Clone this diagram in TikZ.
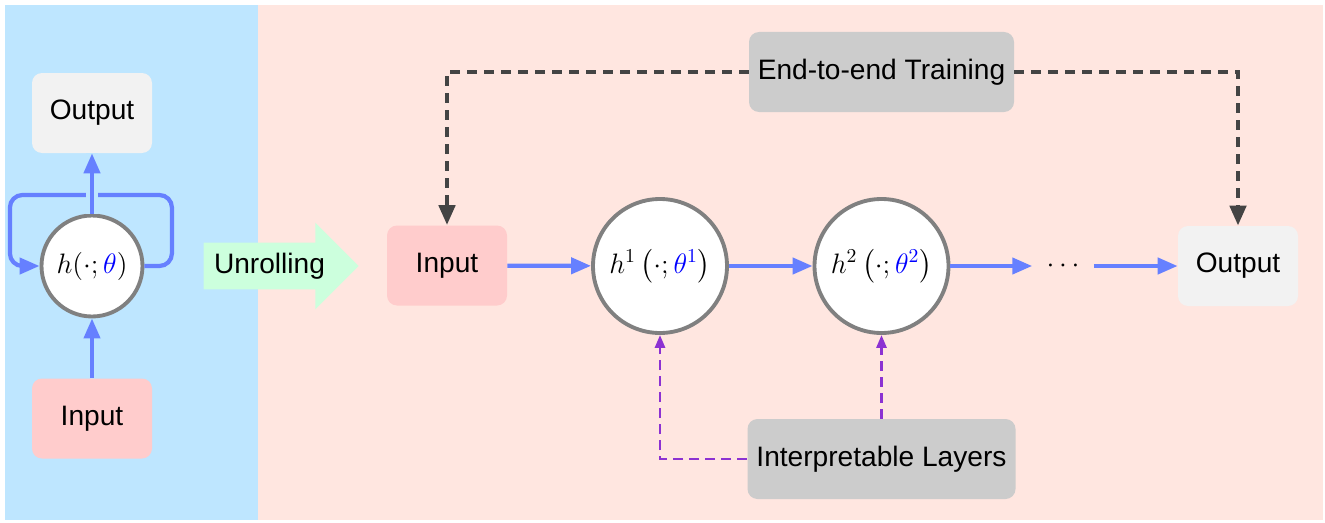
\RequirePackage{fix-cm}
\documentclass[tikz,border=0pt]{standalone}
\usepackage{amsmath,amsfonts}
\usepackage[no-math]{fontspec}
\setsansfont{Liberation Sans}
\usepackage{tikz}
\usetikzlibrary{positioning}
\usetikzlibrary{arrows.meta}
\usetikzlibrary{shapes.arrows}

\definecolor{panelblue}{RGB}{190,230,255}
\definecolor{panelpink}{RGB}{255,230,224}
\definecolor{inred}{RGB}{255,204,204}
\definecolor{outgray}{RGB}{242,242,242}
\definecolor{boxgray}{RGB}{204,204,204}
\definecolor{flowblue}{RGB}{102,128,255}
\definecolor{darkdash}{RGB}{68,68,68}
\definecolor{layerviolet}{RGB}{140,50,210}
\definecolor{mint}{RGB}{204,255,221}
\definecolor{ringgray}{RGB}{128,128,128}

\begin{document}
\begin{tikzpicture}[
    every node/.style={font=\fontsize{16}{19}\selectfont},
    box/.style={rounded corners=.2cm, minimum width=2.4cm, minimum height=1.6cm, inner sep=0pt, font=\sffamily\fontsize{16}{19}\selectfont},
    ring/.style={circle, draw=ringgray, line width=2.2pt, fill=white, inner sep=0pt},
    flow/.style={flowblue, line width=2.4pt, -{Triangle[length=.4cm,width=.32cm]}},
    train/.style={darkdash, line width=2.6pt, dash pattern=on .2cm off .14cm, -{Triangle[length=.4cm,width=.32cm]}},
    layer/.style={layerviolet, line width=1.6pt, dash pattern=on .2cm off .12cm, -{Triangle[length=.26cm,width=.2cm]}}
]
    \useasboundingbox (0, 0) rectangle (26.5, 10.44);

    % panels
    \fill[panelblue] (.1, .04) rectangle (5.16, 10.34);
    \fill[panelpink] (5.16, .04) rectangle (26.46, 10.34);

    % recurrent view
    \node[box, fill=outgray] (out0) at (1.84, 8.18) {Output};
    \node[ring, minimum size=2.02cm] (rnn) at (1.84, 5.12) {\(h(\cdot;\textcolor{blue}{\theta})\)};
    \node[box, fill=inred] (in0) at (1.84, 2.07) {Input};

    \draw[flow, rounded corners=.25cm] (rnn.east) -- ++(.55, 0) |- ++(-3.24, 1.42) |- (rnn.west);
    \draw[flow] (in0) -- (rnn);
    \draw[flow, preaction={draw=panelblue, line width=.24cm, -}] (rnn) -- (out0);

    \node[single arrow, fill=mint, minimum height=3.1cm, single arrow head extend=.4cm,
        inner ysep=.2cm, inner xsep=.1cm, text height=.4cm, text depth=.12cm,
        font=\sffamily\fontsize{16}{19}\selectfont] (unroll) at (5.39, 5.12) {Unrolling};

    % unrolled view
    \node[box, fill=inred] (in1) at (8.94, 5.13) {Input};
    \node[ring, minimum size=2.68cm] (h1) at (13.2, 5.12) {\(h^1\left(\cdot;\textcolor{blue}{\theta^1}\right)\)};
    \node[ring, minimum size=2.68cm] (h2) at (17.63, 5.12) {\(h^2\left(\cdot;\textcolor{blue}{\theta^2}\right)\)};
    \node[inner xsep=.28cm] (dots) at (21.26, 5.12) {\(\cdots\)};
    \node[box, fill=outgray] (out1) at (24.76, 5.12) {Output};

    \node[box, fill=boxgray, minimum width=5.3cm] (e2e) at (17.63, 9) {End-to-end Training};
    \node[box, fill=boxgray, minimum width=5.36cm] (layers) at (17.63, 1.26) {Interpretable Layers};

    \path[flow]
        (in1) edge (h1)
        (h1) edge (h2)
        (h2) edge (dots)
        (dots) edge (out1);

    \draw[train] (e2e.west) -| (in1.north);
    \draw[train] (e2e.east) -| (out1.north);

    \draw[layer] (layers.west) -| (h1.south);
    \draw[layer] (layers.north) -- (h2.south);
\end{tikzpicture}
\end{document}
